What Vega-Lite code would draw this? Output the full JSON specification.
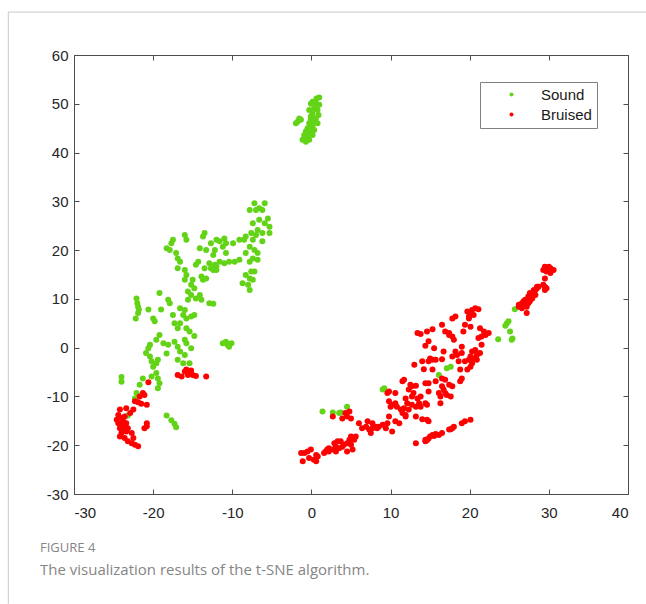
{
"$schema": "https://vega.github.io/schema/vega-lite/v6.json",
"width": 554, "height": 439,
"autosize": {"type": "none"},
"padding": {"left": 74, "top": 55, "right": 18, "bottom": 110},
"background": "white",
"config": {"view": {"stroke": null},
 "axis": {"grid": false, "title": null, "domainColor": "#4d4d4d", "tickColor": "#4d4d4d", "labelFont": "Liberation Sans", "labelFontSize": 15, "labelColor": "#262626", "tickSize": -5},
 "axisX": {"labelPadding": 16, "labelFont": "Liberation Sans"},
 "axisY": {"labelPadding": 11, "labelFont": "Liberation Sans"}},
"title": {"text": "FIGURE 4", "subtitle": "The visualization results of the t-SNE algorithm.", "orient": "bottom", "anchor": "start", "frame": "group", "dx": -34, "offset": -62, "font": "Open Sans", "fontSize": 13, "fontWeight": "normal", "color": "#858585", "subtitleFont": "Open Sans", "subtitleFontSize": 15, "subtitleColor": "#858585", "subtitlePadding": 8},
"layer": [
{"data": {"values": [
{"x":0.98,"y":51.3,"c":"Sound"},{"x":0.64,"y":51.1,"c":"Sound"},{"x":0.14,"y":50.4,"c":"Sound"},{"x":-0.07,"y":50.0,"c":"Sound"},{"x":0.56,"y":50.1,"c":"Sound"},{"x":0.98,"y":49.8,"c":"Sound"},{"x":0.35,"y":49.1,"c":"Sound"},{"x":0.77,"y":48.7,"c":"Sound"},{"x":-0.28,"y":48.7,"c":"Sound"},{"x":0.14,"y":48.0,"c":"Sound"},{"x":0.89,"y":47.7,"c":"Sound"},{"x":0.56,"y":47.0,"c":"Sound"},{"x":-0.07,"y":46.8,"c":"Sound"},{"x":0.35,"y":46.3,"c":"Sound"},{"x":-0.28,"y":46.0,"c":"Sound"},{"x":0.77,"y":46.0,"c":"Sound"},{"x":0.14,"y":45.3,"c":"Sound"},{"x":-0.49,"y":45.0,"c":"Sound"},{"x":0.35,"y":44.6,"c":"Sound"},{"x":-0.07,"y":44.3,"c":"Sound"},{"x":-0.7,"y":43.9,"c":"Sound"},{"x":0.14,"y":43.6,"c":"Sound"},{"x":-0.49,"y":43.3,"c":"Sound"},{"x":-0.91,"y":42.9,"c":"Sound"},{"x":-0.28,"y":42.6,"c":"Sound"},{"x":-0.7,"y":42.2,"c":"Sound"},{"x":-1.12,"y":42.6,"c":"Sound"},{"x":-1.54,"y":47.0,"c":"Sound"},{"x":-1.75,"y":46.3,"c":"Sound"},{"x":-1.96,"y":46.0,"c":"Sound"},{"x":-1.33,"y":46.7,"c":"Sound"},{"x":-0.07,"y":47.4,"c":"Sound"},{"x":-0.7,"y":44.3,"c":"Sound"},{"x":-0.91,"y":43.6,"c":"Sound"},
{"x":-7.2,"y":29.6,"c":"Sound"},{"x":-5.9,"y":29.6,"c":"Sound"},{"x":-6.6,"y":28.6,"c":"Sound"},{"x":-7.8,"y":28.2,"c":"Sound"},{"x":-7.0,"y":28.2,"c":"Sound"},{"x":-6.2,"y":28.2,"c":"Sound"},{"x":-5.5,"y":26.5,"c":"Sound"},{"x":-6.6,"y":26.2,"c":"Sound"},{"x":-5.9,"y":25.5,"c":"Sound"},{"x":-7.4,"y":25.5,"c":"Sound"},{"x":-5.3,"y":24.8,"c":"Sound"},{"x":-6.8,"y":24.1,"c":"Sound"},{"x":-6.2,"y":23.5,"c":"Sound"},{"x":-7.6,"y":23.5,"c":"Sound"},{"x":-8.3,"y":22.8,"c":"Sound"},{"x":-7.0,"y":23.1,"c":"Sound"},{"x":-5.3,"y":23.5,"c":"Sound"},{"x":-9.1,"y":22.1,"c":"Sound"},{"x":-8.5,"y":22.1,"c":"Sound"},{"x":-7.4,"y":22.1,"c":"Sound"},{"x":-6.2,"y":21.8,"c":"Sound"},{"x":-9.9,"y":21.4,"c":"Sound"},{"x":-10.8,"y":21.4,"c":"Sound"},{"x":-7.8,"y":20.7,"c":"Sound"},{"x":-7.2,"y":20.0,"c":"Sound"},{"x":-8.3,"y":19.4,"c":"Sound"},{"x":-6.8,"y":19.4,"c":"Sound"},{"x":-7.4,"y":18.3,"c":"Sound"},{"x":-6.8,"y":18.0,"c":"Sound"},{"x":-7.8,"y":17.6,"c":"Sound"},{"x":-9.1,"y":18.0,"c":"Sound"},{"x":-9.7,"y":17.6,"c":"Sound"},{"x":-10.4,"y":17.6,"c":"Sound"},{"x":-11.0,"y":17.3,"c":"Sound"},{"x":-11.6,"y":17.6,"c":"Sound"},{"x":-12.2,"y":17.0,"c":"Sound"},{"x":-12.4,"y":15.9,"c":"Sound"},{"x":-12.0,"y":16.6,"c":"Sound"},{"x":-7.6,"y":15.6,"c":"Sound"},{"x":-7.2,"y":15.6,"c":"Sound"},{"x":-8.3,"y":14.9,"c":"Sound"},{"x":-7.8,"y":14.2,"c":"Sound"},{"x":-7.4,"y":13.9,"c":"Sound"},{"x":-8.7,"y":13.2,"c":"Sound"},{"x":-8.0,"y":12.9,"c":"Sound"},{"x":-7.8,"y":11.8,"c":"Sound"},
{"x":-13.5,"y":23.5,"c":"Sound"},{"x":-13.7,"y":22.8,"c":"Sound"},{"x":-12.0,"y":22.1,"c":"Sound"},{"x":-11.6,"y":21.8,"c":"Sound"},{"x":-11.0,"y":22.4,"c":"Sound"},{"x":-12.7,"y":21.4,"c":"Sound"},{"x":-14.1,"y":20.4,"c":"Sound"},{"x":-13.3,"y":20.0,"c":"Sound"},{"x":-12.2,"y":20.0,"c":"Sound"},{"x":-11.2,"y":20.7,"c":"Sound"},{"x":-10.8,"y":19.4,"c":"Sound"},{"x":-12.4,"y":19.0,"c":"Sound"},{"x":-14.3,"y":17.6,"c":"Sound"},{"x":-14.6,"y":17.0,"c":"Sound"},{"x":-12.9,"y":17.3,"c":"Sound"},{"x":-13.5,"y":16.3,"c":"Sound"},{"x":-12.7,"y":16.3,"c":"Sound"},{"x":-12.0,"y":15.9,"c":"Sound"},{"x":-16.0,"y":23.1,"c":"Sound"},{"x":-15.8,"y":22.1,"c":"Sound"},{"x":-17.5,"y":22.1,"c":"Sound"},{"x":-17.7,"y":21.4,"c":"Sound"},{"x":-18.3,"y":20.4,"c":"Sound"},{"x":-17.9,"y":20.0,"c":"Sound"},{"x":-17.1,"y":19.4,"c":"Sound"},{"x":-16.9,"y":18.3,"c":"Sound"},{"x":-16.6,"y":17.6,"c":"Sound"},{"x":-16.9,"y":16.3,"c":"Sound"},{"x":-16.0,"y":15.9,"c":"Sound"},{"x":-15.8,"y":14.9,"c":"Sound"},{"x":-16.0,"y":13.9,"c":"Sound"},{"x":-15.0,"y":13.9,"c":"Sound"},{"x":-13.9,"y":14.6,"c":"Sound"},{"x":-13.3,"y":14.2,"c":"Sound"},{"x":-13.7,"y":13.9,"c":"Sound"},{"x":-15.2,"y":12.9,"c":"Sound"},{"x":-14.8,"y":12.2,"c":"Sound"},{"x":-15.6,"y":11.5,"c":"Sound"},{"x":-15.2,"y":10.8,"c":"Sound"},{"x":-14.1,"y":10.8,"c":"Sound"},{"x":-14.6,"y":10.1,"c":"Sound"},{"x":-15.6,"y":9.8,"c":"Sound"},{"x":-12.9,"y":9.1,"c":"Sound"},{"x":-12.4,"y":9.0,"c":"Sound"},{"x":-13.9,"y":9.8,"c":"Sound"},
{"x":-22.1,"y":10.1,"c":"Sound"},{"x":-22.0,"y":9.1,"c":"Sound"},{"x":-21.9,"y":8.4,"c":"Sound"},{"x":-21.8,"y":7.8,"c":"Sound"},{"x":-21.9,"y":7.1,"c":"Sound"},{"x":-22.2,"y":6.0,"c":"Sound"},{"x":-20.6,"y":7.8,"c":"Sound"},{"x":-19.2,"y":11.2,"c":"Sound"},{"x":-19.0,"y":7.8,"c":"Sound"},{"x":-20.0,"y":6.0,"c":"Sound"},{"x":-19.8,"y":5.4,"c":"Sound"},{"x":-18.1,"y":9.8,"c":"Sound"},{"x":-17.9,"y":9.1,"c":"Sound"},{"x":-16.6,"y":8.1,"c":"Sound"},{"x":-17.5,"y":6.7,"c":"Sound"},{"x":-16.2,"y":6.7,"c":"Sound"},{"x":-16.0,"y":7.7,"c":"Sound"},{"x":-15.8,"y":6.0,"c":"Sound"},{"x":-15.2,"y":6.4,"c":"Sound"},{"x":-14.8,"y":6.7,"c":"Sound"},{"x":-17.3,"y":5.0,"c":"Sound"},{"x":-16.6,"y":5.0,"c":"Sound"},{"x":-16.9,"y":4.0,"c":"Sound"},{"x":-15.8,"y":4.0,"c":"Sound"},{"x":-15.4,"y":3.3,"c":"Sound"},{"x":-14.8,"y":2.4,"c":"Sound"},{"x":-19.2,"y":2.6,"c":"Sound"},{"x":-19.6,"y":1.6,"c":"Sound"},{"x":-20.4,"y":0.6,"c":"Sound"},{"x":-20.6,"y":-0.1,"c":"Sound"},{"x":-18.7,"y":0.9,"c":"Sound"},{"x":-18.1,"y":0.6,"c":"Sound"},{"x":-18.3,"y":-1.2,"c":"Sound"},{"x":-17.3,"y":1.2,"c":"Sound"},{"x":-16.9,"y":0.2,"c":"Sound"},{"x":-16.0,"y":1.6,"c":"Sound"},{"x":-15.8,"y":0.9,"c":"Sound"},{"x":-15.2,"y":-0.1,"c":"Sound"},{"x":-16.6,"y":-0.8,"c":"Sound"},{"x":-16.0,"y":-1.5,"c":"Sound"},{"x":-16.9,"y":-2.5,"c":"Sound"},{"x":-16.2,"y":-3.2,"c":"Sound"},{"x":-15.4,"y":-3.2,"c":"Sound"},{"x":-20.9,"y":-1.1,"c":"Sound"},{"x":-20.4,"y":-1.8,"c":"Sound"},{"x":-20.2,"y":-2.8,"c":"Sound"},{"x":-19.6,"y":-3.2,"c":"Sound"},{"x":-19.4,"y":-2.5,"c":"Sound"},{"x":-20.0,"y":-3.9,"c":"Sound"},{"x":-19.6,"y":-5.2,"c":"Sound"},{"x":-19.4,"y":-6.3,"c":"Sound"},{"x":-19.2,"y":-7.3,"c":"Sound"},{"x":-19.4,"y":-8.3,"c":"Sound"},{"x":-20.2,"y":-5.9,"c":"Sound"},{"x":-21.3,"y":-6.3,"c":"Sound"},{"x":-21.7,"y":-7.6,"c":"Sound"},{"x":-22.1,"y":-9.3,"c":"Sound"},{"x":-22.3,"y":-10.4,"c":"Sound"},{"x":-23.2,"y":-13.9,"c":"Sound"},{"x":-24.0,"y":-6.0,"c":"Sound"},{"x":-24.0,"y":-7.0,"c":"Sound"},{"x":-18.3,"y":-13.9,"c":"Sound"},{"x":-17.7,"y":-14.9,"c":"Sound"},{"x":-17.3,"y":-15.6,"c":"Sound"},{"x":-17.1,"y":-16.3,"c":"Sound"},{"x":-11.2,"y":0.9,"c":"Sound"},{"x":-10.8,"y":1.2,"c":"Sound"},{"x":-10.4,"y":0.2,"c":"Sound"},{"x":-10.1,"y":0.9,"c":"Sound"},{"x":-10.6,"y":0.6,"c":"Sound"},
{"x":1.4,"y":-13.1,"c":"Sound"},{"x":2.7,"y":-13.3,"c":"Sound"},{"x":3.5,"y":-13.4,"c":"Sound"},{"x":3.7,"y":-13.3,"c":"Sound"},{"x":4.5,"y":-12.1,"c":"Sound"},{"x":9.0,"y":-8.6,"c":"Sound"},{"x":9.2,"y":-8.3,"c":"Sound"},{"x":16.1,"y":-5.6,"c":"Sound"},{"x":17.1,"y":-4.2,"c":"Sound"},{"x":17.6,"y":-3.9,"c":"Sound"},{"x":24.7,"y":5.0,"c":"Sound"},{"x":24.9,"y":5.4,"c":"Sound"},{"x":24.5,"y":4.5,"c":"Sound"},{"x":25.1,"y":3.3,"c":"Sound"},{"x":25.4,"y":1.9,"c":"Sound"},{"x":25.3,"y":1.6,"c":"Sound"},{"x":23.6,"y":1.7,"c":"Sound"},{"x":25.7,"y":7.9,"c":"Sound"},
{"x":-16.9,"y":-5.6,"c":"Bruised"},{"x":-16.4,"y":-5.9,"c":"Bruised"},{"x":-16.0,"y":-4.9,"c":"Bruised"},{"x":-15.6,"y":-5.6,"c":"Bruised"},{"x":-15.8,"y":-4.5,"c":"Bruised"},{"x":-15.2,"y":-4.7,"c":"Bruised"},{"x":-15.0,"y":-5.6,"c":"Bruised"},{"x":-14.6,"y":-5.8,"c":"Bruised"},{"x":-15.6,"y":-5.2,"c":"Bruised"},{"x":-13.3,"y":-5.9,"c":"Bruised"},{"x":-20.6,"y":-7.1,"c":"Bruised"},{"x":-21.3,"y":-9.3,"c":"Bruised"},{"x":-21.1,"y":-9.7,"c":"Bruised"},{"x":-21.7,"y":-10.0,"c":"Bruised"},{"x":-22.3,"y":-11.0,"c":"Bruised"},{"x":-21.9,"y":-11.2,"c":"Bruised"},{"x":-21.5,"y":-11.5,"c":"Bruised"},{"x":-20.8,"y":-11.7,"c":"Bruised"},{"x":-22.5,"y":-12.7,"c":"Bruised"},{"x":-22.9,"y":-13.4,"c":"Bruised"},{"x":-23.4,"y":-12.4,"c":"Bruised"},{"x":-24.2,"y":-12.7,"c":"Bruised"},{"x":-24.6,"y":-14.8,"c":"Bruised"},{"x":-24.0,"y":-14.4,"c":"Bruised"},{"x":-23.6,"y":-14.1,"c":"Bruised"},{"x":-24.4,"y":-15.5,"c":"Bruised"},{"x":-24.0,"y":-15.8,"c":"Bruised"},{"x":-23.6,"y":-16.2,"c":"Bruised"},{"x":-24.2,"y":-16.5,"c":"Bruised"},{"x":-23.8,"y":-16.8,"c":"Bruised"},{"x":-23.4,"y":-17.2,"c":"Bruised"},{"x":-24.0,"y":-17.5,"c":"Bruised"},{"x":-24.2,"y":-18.2,"c":"Bruised"},{"x":-23.6,"y":-18.5,"c":"Bruised"},{"x":-22.7,"y":-17.5,"c":"Bruised"},{"x":-22.5,"y":-18.5,"c":"Bruised"},{"x":-23.2,"y":-19.2,"c":"Bruised"},{"x":-22.7,"y":-19.6,"c":"Bruised"},{"x":-22.3,"y":-19.9,"c":"Bruised"},{"x":-21.9,"y":-20.2,"c":"Bruised"},{"x":-20.8,"y":-15.5,"c":"Bruised"},{"x":-21.1,"y":-16.5,"c":"Bruised"},{"x":-20.8,"y":-16.1,"c":"Bruised"},{"x":-23.8,"y":-15.1,"c":"Bruised"},{"x":-23.4,"y":-15.5,"c":"Bruised"},{"x":-23.2,"y":-16.5,"c":"Bruised"},{"x":-24.4,"y":-13.8,"c":"Bruised"},
{"x":29.5,"y":16.6,"c":"Bruised"},{"x":30.2,"y":16.3,"c":"Bruised"},{"x":30.6,"y":15.9,"c":"Bruised"},{"x":29.7,"y":15.6,"c":"Bruised"},{"x":29.3,"y":15.9,"c":"Bruised"},{"x":30.2,"y":15.3,"c":"Bruised"},{"x":30.0,"y":16.6,"c":"Bruised"},{"x":29.5,"y":14.2,"c":"Bruised"},{"x":29.7,"y":12.2,"c":"Bruised"},{"x":29.5,"y":12.5,"c":"Bruised"},
{"x":28.7,"y":12.5,"c":"Bruised"},{"x":28.3,"y":11.8,"c":"Bruised"},{"x":27.9,"y":11.2,"c":"Bruised"},{"x":27.4,"y":10.5,"c":"Bruised"},{"x":27.0,"y":9.8,"c":"Bruised"},{"x":26.6,"y":9.1,"c":"Bruised"},{"x":26.2,"y":8.8,"c":"Bruised"},{"x":27.4,"y":9.1,"c":"Bruised"},{"x":27.0,"y":8.8,"c":"Bruised"},{"x":27.9,"y":10.1,"c":"Bruised"},{"x":27.2,"y":9.5,"c":"Bruised"},{"x":28.1,"y":11.5,"c":"Bruised"},{"x":28.5,"y":12.2,"c":"Bruised"},{"x":26.6,"y":8.4,"c":"Bruised"},
{"x":29.3,"y":12.9,"c":"Bruised"},{"x":28.5,"y":12.5,"c":"Bruised"},{"x":28.1,"y":11.8,"c":"Bruised"},{"x":27.6,"y":11.2,"c":"Bruised"},{"x":28.3,"y":10.8,"c":"Bruised"},{"x":27.8,"y":10.5,"c":"Bruised"},{"x":27.4,"y":10.1,"c":"Bruised"},{"x":26.8,"y":9.5,"c":"Bruised"},{"x":27.6,"y":9.5,"c":"Bruised"},{"x":26.2,"y":8.4,"c":"Bruised"},{"x":26.6,"y":8.1,"c":"Bruised"},{"x":27.2,"y":8.4,"c":"Bruised"},{"x":29.5,"y":11.8,"c":"Bruised"},{"x":27.2,"y":7.1,"c":"Bruised"},
{"x":19.7,"y":7.4,"c":"Bruised"},{"x":20.1,"y":7.1,"c":"Bruised"},{"x":19.9,"y":6.4,"c":"Bruised"},{"x":20.3,"y":7.7,"c":"Bruised"},{"x":20.7,"y":8.1,"c":"Bruised"},{"x":21.1,"y":7.9,"c":"Bruised"},{"x":20.5,"y":6.7,"c":"Bruised"},{"x":19.9,"y":6.0,"c":"Bruised"},{"x":17.8,"y":6.0,"c":"Bruised"},{"x":18.2,"y":6.4,"c":"Bruised"},{"x":16.5,"y":4.7,"c":"Bruised"},{"x":19.4,"y":4.7,"c":"Bruised"},{"x":19.2,"y":3.3,"c":"Bruised"},{"x":20.1,"y":4.3,"c":"Bruised"},{"x":16.9,"y":3.3,"c":"Bruised"},{"x":17.4,"y":2.6,"c":"Bruised"},{"x":17.8,"y":2.3,"c":"Bruised"},{"x":18.0,"y":1.6,"c":"Bruised"},{"x":17.4,"y":3.0,"c":"Bruised"},{"x":21.3,"y":4.0,"c":"Bruised"},{"x":21.8,"y":3.3,"c":"Bruised"},{"x":22.0,"y":2.6,"c":"Bruised"},{"x":21.5,"y":2.3,"c":"Bruised"},{"x":22.4,"y":3.0,"c":"Bruised"},{"x":21.1,"y":2.0,"c":"Bruised"},{"x":13.4,"y":3.0,"c":"Bruised"},{"x":13.8,"y":2.8,"c":"Bruised"},{"x":14.6,"y":3.3,"c":"Bruised"},{"x":15.3,"y":3.8,"c":"Bruised"},{"x":14.8,"y":1.3,"c":"Bruised"},{"x":14.4,"y":0.4,"c":"Bruised"},{"x":16.7,"y":-0.8,"c":"Bruised"},{"x":18.2,"y":-0.8,"c":"Bruised"},{"x":19.0,"y":0.2,"c":"Bruised"},{"x":19.0,"y":-1.1,"c":"Bruised"},{"x":20.3,"y":-0.8,"c":"Bruised"},{"x":20.7,"y":-0.5,"c":"Bruised"},{"x":20.1,"y":-1.8,"c":"Bruised"},{"x":20.5,"y":-2.2,"c":"Bruised"},{"x":20.9,"y":-1.5,"c":"Bruised"},{"x":21.3,"y":-1.1,"c":"Bruised"},{"x":21.5,"y":0.6,"c":"Bruised"},{"x":15.5,"y":-0.1,"c":"Bruised"},{"x":15.0,"y":-2.2,"c":"Bruised"},{"x":15.3,"y":-2.5,"c":"Bruised"},{"x":15.7,"y":-2.5,"c":"Bruised"},{"x":16.5,"y":-2.4,"c":"Bruised"},{"x":14.8,"y":-2.8,"c":"Bruised"},{"x":14.0,"y":-2.8,"c":"Bruised"},{"x":13.0,"y":-3.5,"c":"Bruised"},{"x":14.2,"y":-4.4,"c":"Bruised"},{"x":15.3,"y":-4.5,"c":"Bruised"},{"x":18.6,"y":-2.8,"c":"Bruised"},{"x":19.4,"y":-2.8,"c":"Bruised"},{"x":20.1,"y":-3.9,"c":"Bruised"},{"x":20.3,"y":-3.2,"c":"Bruised"},{"x":18.8,"y":-4.5,"c":"Bruised"},{"x":19.7,"y":-4.5,"c":"Bruised"},{"x":17.8,"y":-1.8,"c":"Bruised"},{"x":18.4,"y":-1.5,"c":"Bruised"},{"x":19.9,"y":-2.5,"c":"Bruised"},{"x":20.9,"y":-2.5,"c":"Bruised"},
{"x":11.5,"y":-6.9,"c":"Bruised"},{"x":11.7,"y":-6.6,"c":"Bruised"},{"x":12.5,"y":-7.6,"c":"Bruised"},{"x":12.7,"y":-7.9,"c":"Bruised"},{"x":13.2,"y":-7.8,"c":"Bruised"},{"x":12.3,"y":-8.6,"c":"Bruised"},{"x":12.9,"y":-9.3,"c":"Bruised"},{"x":12.7,"y":-10.0,"c":"Bruised"},{"x":13.4,"y":-10.4,"c":"Bruised"},{"x":13.8,"y":-10.0,"c":"Bruised"},{"x":14.4,"y":-7.3,"c":"Bruised"},{"x":14.8,"y":-7.3,"c":"Bruised"},{"x":15.7,"y":-6.9,"c":"Bruised"},{"x":16.5,"y":-6.3,"c":"Bruised"},{"x":16.9,"y":-6.6,"c":"Bruised"},{"x":16.5,"y":-7.9,"c":"Bruised"},{"x":16.7,"y":-8.6,"c":"Bruised"},{"x":16.9,"y":-9.3,"c":"Bruised"},{"x":16.1,"y":-9.3,"c":"Bruised"},{"x":16.3,"y":-10.0,"c":"Bruised"},{"x":17.1,"y":-9.7,"c":"Bruised"},{"x":17.6,"y":-10.0,"c":"Bruised"},{"x":17.4,"y":-7.6,"c":"Bruised"},{"x":17.8,"y":-7.9,"c":"Bruised"},{"x":16.3,"y":-11.4,"c":"Bruised"},{"x":14.8,"y":-9.0,"c":"Bruised"},{"x":19.0,"y":-6.3,"c":"Bruised"},{"x":18.8,"y":-6.9,"c":"Bruised"},{"x":9.8,"y":-9.0,"c":"Bruised"},{"x":9.6,"y":-9.3,"c":"Bruised"},{"x":10.6,"y":-9.3,"c":"Bruised"},{"x":10.8,"y":-12.1,"c":"Bruised"},{"x":10.0,"y":-12.1,"c":"Bruised"},{"x":10.2,"y":-11.7,"c":"Bruised"},{"x":9.8,"y":-11.0,"c":"Bruised"},{"x":10.6,"y":-11.4,"c":"Bruised"},{"x":11.9,"y":-10.4,"c":"Bruised"},{"x":12.1,"y":-11.4,"c":"Bruised"},{"x":11.7,"y":-12.4,"c":"Bruised"},{"x":11.3,"y":-12.7,"c":"Bruised"},{"x":11.5,"y":-13.4,"c":"Bruised"},{"x":11.9,"y":-13.8,"c":"Bruised"},{"x":12.3,"y":-12.7,"c":"Bruised"},{"x":12.7,"y":-11.7,"c":"Bruised"},{"x":13.2,"y":-12.1,"c":"Bruised"},{"x":13.6,"y":-11.4,"c":"Bruised"},{"x":13.8,"y":-12.1,"c":"Bruised"},{"x":14.4,"y":-11.4,"c":"Bruised"},{"x":14.6,"y":-11.7,"c":"Bruised"},{"x":13.2,"y":-14.1,"c":"Bruised"},{"x":14.0,"y":-14.7,"c":"Bruised"},{"x":14.6,"y":-14.8,"c":"Bruised"},{"x":14.8,"y":-15.1,"c":"Bruised"},{"x":11.9,"y":-14.1,"c":"Bruised"},{"x":9.8,"y":-14.1,"c":"Bruised"},{"x":9.6,"y":-15.5,"c":"Bruised"},{"x":9.4,"y":-16.5,"c":"Bruised"},{"x":9.0,"y":-15.8,"c":"Bruised"},{"x":8.5,"y":-16.2,"c":"Bruised"},{"x":8.1,"y":-16.2,"c":"Bruised"},{"x":7.7,"y":-16.5,"c":"Bruised"},{"x":7.3,"y":-16.8,"c":"Bruised"},{"x":6.9,"y":-16.2,"c":"Bruised"},{"x":7.1,"y":-15.1,"c":"Bruised"},{"x":7.7,"y":-15.5,"c":"Bruised"},{"x":6.0,"y":-15.5,"c":"Bruised"},{"x":6.4,"y":-16.5,"c":"Bruised"},{"x":7.5,"y":-17.5,"c":"Bruised"},{"x":8.3,"y":-16.5,"c":"Bruised"},{"x":10.2,"y":-17.2,"c":"Bruised"},{"x":10.6,"y":-15.1,"c":"Bruised"},{"x":11.1,"y":-15.5,"c":"Bruised"},{"x":2.7,"y":-14.1,"c":"Bruised"},{"x":3.9,"y":-14.5,"c":"Bruised"},{"x":4.3,"y":-13.4,"c":"Bruised"},{"x":4.5,"y":-14.1,"c":"Bruised"},{"x":5.0,"y":-14.5,"c":"Bruised"},{"x":4.8,"y":-13.1,"c":"Bruised"},
{"x":5.6,"y":-18.2,"c":"Bruised"},{"x":5.4,"y":-18.9,"c":"Bruised"},{"x":5.0,"y":-18.2,"c":"Bruised"},{"x":4.8,"y":-18.9,"c":"Bruised"},{"x":4.5,"y":-19.6,"c":"Bruised"},{"x":4.1,"y":-19.9,"c":"Bruised"},{"x":3.9,"y":-20.3,"c":"Bruised"},{"x":3.5,"y":-20.6,"c":"Bruised"},{"x":3.1,"y":-20.3,"c":"Bruised"},{"x":3.3,"y":-19.2,"c":"Bruised"},{"x":2.9,"y":-19.6,"c":"Bruised"},{"x":2.7,"y":-20.9,"c":"Bruised"},{"x":2.2,"y":-21.3,"c":"Bruised"},{"x":2.0,"y":-20.9,"c":"Bruised"},{"x":1.8,"y":-21.3,"c":"Bruised"},{"x":1.6,"y":-21.6,"c":"Bruised"},{"x":2.2,"y":-20.6,"c":"Bruised"},{"x":3.7,"y":-19.2,"c":"Bruised"},{"x":5.2,"y":-20.9,"c":"Bruised"},{"x":4.5,"y":-21.3,"c":"Bruised"},{"x":5.0,"y":-19.9,"c":"Bruised"},{"x":5.4,"y":-18.6,"c":"Bruised"},{"x":3.1,"y":-21.3,"c":"Bruised"},{"x":0.6,"y":-22.0,"c":"Bruised"},{"x":0.3,"y":-23.0,"c":"Bruised"},{"x":-0.3,"y":-22.6,"c":"Bruised"},{"x":-0.07,"y":-20.9,"c":"Bruised"},{"x":-0.5,"y":-21.3,"c":"Bruised"},{"x":-0.9,"y":-21.6,"c":"Bruised"},{"x":-1.3,"y":-21.6,"c":"Bruised"},{"x":-1.1,"y":-23.3,"c":"Bruised"},{"x":0.8,"y":-22.3,"c":"Bruised"},{"x":0.6,"y":-23.3,"c":"Bruised"},
{"x":13.2,"y":-19.6,"c":"Bruised"},{"x":14.4,"y":-19.2,"c":"Bruised"},{"x":14.8,"y":-18.6,"c":"Bruised"},{"x":15.3,"y":-17.9,"c":"Bruised"},{"x":15.7,"y":-17.7,"c":"Bruised"},{"x":16.1,"y":-17.9,"c":"Bruised"},{"x":16.5,"y":-17.5,"c":"Bruised"},{"x":17.4,"y":-16.8,"c":"Bruised"},{"x":17.8,"y":-16.5,"c":"Bruised"},{"x":18.0,"y":-16.2,"c":"Bruised"},{"x":17.6,"y":-16.7,"c":"Bruised"},{"x":19.0,"y":-15.5,"c":"Bruised"},{"x":19.4,"y":-15.1,"c":"Bruised"},{"x":20.1,"y":-14.8,"c":"Bruised"},{"x":14.4,"y":-18.9,"c":"Bruised"},{"x":15.0,"y":-18.2,"c":"Bruised"},{"x":14.6,"y":-19.0,"c":"Bruised"},{"x":15.5,"y":-18.1,"c":"Bruised"}
]},
"mark": {"type": "circle", "size": 36, "opacity": 1},
"encoding": {
 "x": {"field": "x", "type": "quantitative", "scale": {"domain": [-30, 40], "nice": false, "zero": false}, "axis": {"orient": "bottom", "values": [-30,-20,-10,0,10,20,30,40], "labelFont": "Liberation Sans", "labelExpr": "replace(datum.label, '−', '-')"}},
 "y": {"field": "y", "type": "quantitative", "scale": {"domain": [-30, 60], "nice": false, "zero": false}, "axis": {"orient": "left", "values": [-30,-20,-10,0,10,20,30,40,50,60], "labelFont": "Liberation Sans", "labelExpr": "replace(datum.label, '−', '-')"}},
 "color": {"field": "c", "type": "nominal", "scale": {"domain": ["Sound", "Bruised"], "range": ["#62d316", "#ff0000"]},
  "legend": {"title": null, "orient": "none", "legendX": 406, "legendY": 27, "strokeColor": "#808080", "fillColor": "white", "padding": 5, "rowPadding": 4, "symbolSize": 16, "symbolType": "circle", "symbolOffset": 19, "labelOffset": 22, "labelFont": "Liberation Sans", "labelFontSize": 15, "labelColor": "#1a1a1a"}}
}},
{"data": {"values": [{"x": -38.3, "x2": -38.3, "y": -52.5, "y2": 68.8}, {"x": -38.3, "x2": 42.5, "y": 68.8, "y2": 68.8}]},
"mark": {"type": "rule", "color": "#c8c8c8", "strokeWidth": 1},
"encoding": {
 "x": {"field": "x", "type": "quantitative", "scale": {"domain": [-30, 40], "nice": false, "zero": false}, "axis": {"orient": "top", "labels": false, "values": [-30,-20,-10,0,10,20,30,40]}},
 "x2": {"field": "x2"},
 "y": {"field": "y", "type": "quantitative", "scale": {"domain": [-30, 60], "nice": false, "zero": false}, "axis": {"orient": "right", "labels": false, "values": [-30,-20,-10,0,10,20,30,40,50,60]}},
 "y2": {"field": "y2"}
}}
],
"resolve": {"axis": {"x": "independent", "y": "independent"}}
}
